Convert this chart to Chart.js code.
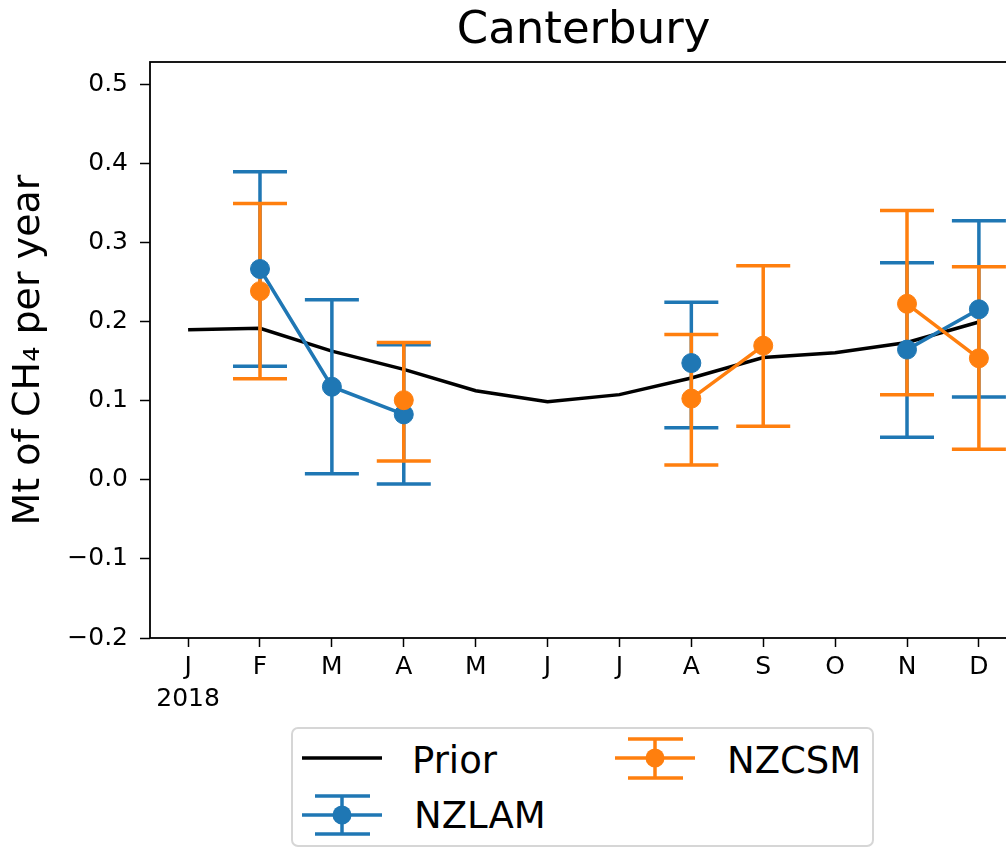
<!DOCTYPE html>
<html>
<head>
<meta charset="utf-8">
<script src="https://cdn.jsdelivr.net/npm/chart.js@4.4.1/dist/chart.umd.min.js"></script>
<style>
html,body{margin:0;padding:0;overflow:hidden;background:#fff;width:1006px;height:848px;}
#wrap{position:absolute;left:0;top:0;width:1030px;height:848px;}
#legendBox{position:absolute;left:291px;top:727px;width:579px;height:116px;border:2px solid #d6d6d6;border-radius:7px;background:#fff;}
.lt{position:absolute;font-family:"DejaVu Sans";font-size:37px;line-height:37px;color:#000;white-space:nowrap;}
#glyphs{position:absolute;left:0;top:0;}
</style>
</head>
<body>
<div id="wrap"><canvas id="c"></canvas></div>
<div id="legendBox"></div>
<svg id="glyphs" width="1006" height="848">
  <line x1="302" y1="758" x2="382" y2="758" stroke="#000" stroke-width="3.5"/>
  <g stroke="#1f77b4" stroke-width="3.5" fill="#1f77b4">
    <line x1="302" y1="815" x2="382" y2="815"/>
    <line x1="342" y1="796" x2="342" y2="834"/>
    <line x1="315" y1="796" x2="370" y2="796"/>
    <line x1="315" y1="834" x2="370" y2="834"/>
    <circle cx="342" cy="815" r="9.5" stroke="none"/>
  </g>
  <g stroke="#ff7f0e" stroke-width="3.5" fill="#ff7f0e">
    <line x1="615" y1="758" x2="695" y2="758"/>
    <line x1="655" y1="739" x2="655" y2="778"/>
    <line x1="628" y1="739" x2="683" y2="739"/>
    <line x1="628" y1="778" x2="683" y2="778"/>
    <circle cx="655" cy="758" r="9.5" stroke="none"/>
  </g>
</svg>
<div class="lt" style="left:412px;top:742px;">Prior</div>
<div class="lt" style="left:414px;top:797px;">NZLAM</div>
<div class="lt" style="left:727px;top:742px;">NZCSM</div>
<script>
const months = ['J','F','M','A','M','J','J','A','S','O','N','D'];
const yearLabel = '2018';
const monthIndex = [0,1,2,3,4,5,6,7,8,9,10,11];
const prior = [0.190,0.192,0.163,0.140,0.113,0.099,0.108,0.129,0.155,0.161,0.174,0.200];
const nzlam     = [null,0.267,0.118,0.083,null,null,null,0.148,null,null,0.165,0.216];
const nzlamLow  = [null,0.144,0.008,-0.005,null,null,null,0.066,null,null,0.054,0.105];
const nzlamHigh = [null,0.390,0.228,0.171,null,null,null,0.225,null,null,0.275,0.328];
const nzcsm     = [null,0.239,null,0.101,null,null,null,0.103,0.170,null,0.223,0.154];
const nzcsmLow  = [null,0.128,null,0.024,null,null,null,0.019,0.068,null,0.108,0.039];
const nzcsmHigh = [null,0.350,null,0.174,null,null,null,0.184,0.271,null,0.341,0.270];
const yTicks = [-0.2,-0.1,0.0,0.1,0.2,0.3,0.4,0.5];

const BLUE = '#1f77b4', ORANGE = '#ff7f0e';
const toPts = arr => monthIndex.map((x,i)=>({x:x, y:arr[i]}));

const errorSets = [
  {color: BLUE, vals: nzlam, low: nzlamLow, high: nzlamHigh},
  {color: ORANGE, vals: nzcsm, low: nzcsmLow, high: nzcsmHigh}
];

const errorBarPlugin = {
  id: 'errorBars',
  beforeDatasetDraw(chart, args) {
    if (args.index !== 1) return;
    const ctx = chart.ctx, xs = chart.scales.x, ys = chart.scales.y;
    const cap = 27;
    ctx.save();
    ctx.lineWidth = 3.5;
    ctx.lineCap = 'butt';
    errorSets.forEach(s => {
      ctx.strokeStyle = s.color;
      monthIndex.forEach((m,i) => {
        if (s.vals[i] === null) return;
        const px = xs.getPixelForValue(m);
        const pl = ys.getPixelForValue(s.low[i]);
        const ph = ys.getPixelForValue(s.high[i]);
        ctx.beginPath();
        ctx.moveTo(px, pl); ctx.lineTo(px, ph);
        ctx.moveTo(px-cap, pl); ctx.lineTo(px+cap, pl);
        ctx.moveTo(px-cap, ph); ctx.lineTo(px+cap, ph);
        ctx.stroke();
      });
    });
    ctx.restore();
  }
};

const framePlugin = {
  id: 'frame',
  afterDatasetsDraw(chart) {
    const a = chart.chartArea, ctx = chart.ctx;
    ctx.save();
    ctx.strokeStyle = '#000';
    ctx.lineWidth = 1.8;
    ctx.strokeRect(a.left, a.top, a.right - a.left, a.bottom - a.top);
    ctx.restore();
  }
};

Chart.defaults.font.family = '"DejaVu Sans"';
Chart.defaults.color = '#000';

new Chart(document.getElementById('c'), {
  type: 'line',
  data: {
    datasets: [
      {label:'Prior', data: toPts(prior), borderColor:'#000', borderWidth:3.5, pointRadius:0, pointHoverRadius:0, fill:false, tension:0, order:3},
      {label:'NZLAM', data: toPts(nzlam), borderColor:BLUE, backgroundColor:BLUE, borderWidth:3.5, pointRadius:9.5, pointHoverRadius:9.5, pointBorderWidth:1, pointBorderColor:BLUE, pointBackgroundColor:BLUE, spanGaps:false, fill:false, tension:0, order:2},
      {label:'NZCSM', data: toPts(nzcsm), borderColor:ORANGE, backgroundColor:ORANGE, borderWidth:3.5, pointRadius:9.5, pointHoverRadius:9.5, pointBorderWidth:1, pointBorderColor:ORANGE, pointBackgroundColor:ORANGE, spanGaps:false, fill:false, tension:0, order:1}
    ]
  },
  options: {
    responsive: true,
    maintainAspectRatio: false,
    animation: false,
    events: [],
    layout: {padding: {left:0, right:13, top:0, bottom:130}},
    plugins: {
      legend: {display:false},
      tooltip: {enabled:false},
      title: {display:true, text:'Canterbury', fullSize:false, color:'#000',
              font:{size:45, weight:'normal', lineHeight:1.2}, padding:{top:4, bottom:4}}
    },
    scales: {
      x: {
        type:'linear', min:-0.53, max:11.53,
        border:{display:false},
        grid:{display:true, drawOnChartArea:false, drawTicks:true, tickLength:9, tickColor:'#000', tickWidth:1.5},
        afterBuildTicks: s => { s.ticks = monthIndex.map(v => ({value:v})); },
        afterFit: s => { s.height = 80; },
        ticks:{autoSkip:false, maxRotation:0, minRotation:0, padding:4, color:'#000',
               font:{size:25, lineHeight:1.3},
               callback: (v) => { const i = Math.round(v); return i === 0 ? [months[0], yearLabel] : months[i]; }}
      },
      y: {
        type:'linear', min:-0.2, max:0.529,
        border:{display:false},
        grid:{display:true, drawOnChartArea:false, drawTicks:true, tickLength:10, tickColor:'#000', tickWidth:1.5},
        afterBuildTicks: s => { s.ticks = yTicks.map(v => ({value:v})); },
        afterFit: s => { s.width = 150; },
        ticks:{padding:12, color:'#000', font:{size:25},
               callback: v => (v < -1e-9 ? '\u2212' : '') + Math.abs(v).toFixed(1)},
        title:{display:true, text:'Mt of CH\u2084 per year', color:'#000', font:{size:38, lineHeight:1.2}, padding:{top:6, bottom:0}}
      }
    }
  },
  plugins: [errorBarPlugin, framePlugin]
});
</script>
</body>
</html>
